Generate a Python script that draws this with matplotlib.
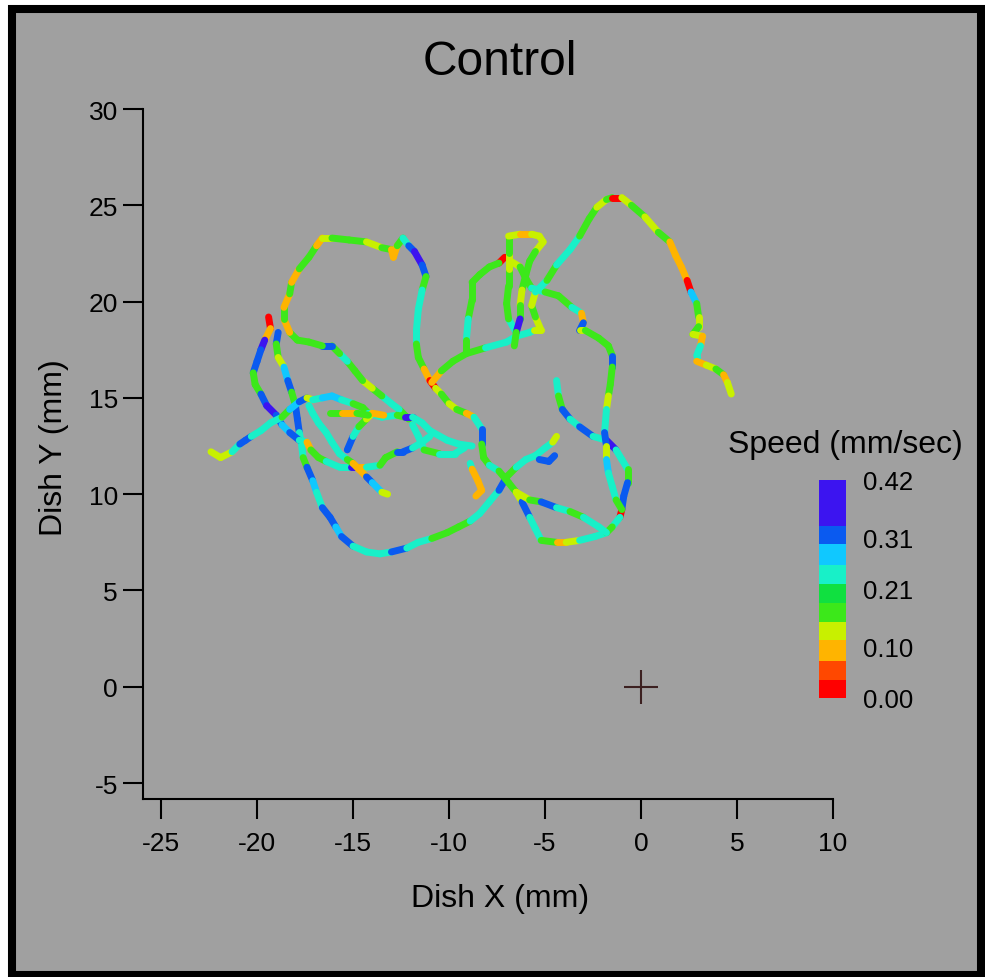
import numpy as np
import matplotlib
matplotlib.use("Agg")
import matplotlib.pyplot as plt
from matplotlib.collections import LineCollection
from matplotlib.colors import ListedColormap, BoundaryNorm
from matplotlib.cm import ScalarMappable
from matplotlib.patches import Rectangle

plt.rcParams['font.family'] = ['Liberation Sans', 'DejaVu Sans']
plt.rcParams['axes.unicode_minus'] = False

# traced track pieces (mm) with speed (mm/sec) at each point
tail_x = [-22.4, -21.9, -21.3, -20.9, -20.6, -20.3, -19.8, -19.3, -18.7, -18.3, -17.8, -17.4, -17.1, -16.6,
          -16.1, -15.6, -15.0, -14.5, -14.2, -13.5, -12.7, -12.3, -11.9, -11.4, -11.0, -10.1, -9.5, -8.8]
tail_y = [12.2, 11.9, 12.2, 12.6, 12.8, 13.0, 13.3, 13.7, 14.0, 14.4, 14.8, 15.0, 14.9, 15.0,
          15.1, 14.9, 14.7, 14.5, 14.2, 14.0, 14.1, 14.0, 14.0, 13.7, 13.3, 12.8, 12.6, 12.5]
tail_v = [.13, .13, .24, .31, .31, .24, .24, .24, .17, .27, .31, .13, .24, .27,
          .27, .24, .17, .17, .24, .24, .17, .38, .24, .24, .24, .24, .24, .31]

cross_x = [-15.3, -15.0, -14.7, -14.3, -14.0, -13.4]
cross_y = [12.3, 13.0, 13.5, 13.9, 14.2, 14.1]
cross_v = [.31, .24, .17, .13, .09, .24]

mid_x = [-16.2, -15.6, -14.8, -14.2]
mid_y = [14.2, 14.2, 14.2, 14.1]
mid_v = [.17, .09, .17, .24]

left_x = [-19.4, -19.3, -19.6, -19.8, -20.0, -20.2, -20.1, -19.8, -19.5, -19.0, -18.7, -18.3, -17.8, -17.4,
          -17.2, -16.8, -16.4, -15.7, -15.1, -14.7, -14.3, -13.6, -13.3, -12.7, -12.4, -11.9, -11.4, -11.0]
left_y = [19.2, 18.6, 18.0, 17.5, 16.9, 16.3, 15.7, 15.2, 14.6, 14.1, 13.6, 13.2, 12.8, 12.7,
          12.3, 11.9, 11.7, 11.4, 11.4, 11.4, 11.4, 11.5, 11.9, 12.2, 12.2, 12.4, 12.7, 13.0]
left_v = [.02, .09, .38, .31, .31, .17, .17, .31, .38, .31, .27, .31, .24, .09,
          .17, .17, .24, .24, .38, .09, .24, .17, .17, .31, .31, .24, .24, .24]

low_x = [-18.9, -19.0, -18.9, -18.6, -18.4, -18.2, -18.0, -17.9, -17.8, -17.7, -17.6, -17.4, -17.1,
         -16.9, -16.6, -16.2, -15.9, -15.6, -15.0, -14.3, -13.6, -13.0, -12.2, -11.6, -10.9, -10.1,
         -9.5, -8.9, -8.4, -7.9, -7.4, -7.0, -6.5, -6.0, -5.5, -5.0, -4.6, -4.4]
low_y = [18.4, 17.8, 17.1, 16.6, 15.9, 15.3, 14.6, 13.9, 13.2, 12.7, 11.9, 11.4, 10.7,
         10.1, 9.3, 8.8, 8.3, 7.8, 7.3, 7.0, 6.9, 7.0, 7.2, 7.5, 7.7, 8.0,
         8.3, 8.6, 9.0, 9.6, 10.2, 10.9, 11.4, 11.8, 12.0, 12.4, 12.7, 13.0]
low_v = [.31, .17, .13, .27, .31, .17, .31, .31, .24, .24, .17, .31, .27,
         .24, .31, .31, .27, .31, .24, .24, .24, .31, .24, .24, .17, .17,
         .17, .24, .24, .24, .31, .17, .24, .24, .24, .24, .13, .13]

diag_x = [-17.3, -17.1, -16.8, -16.4, -16.1, -15.7, -15.3, -15.0, -14.7, -14.3, -14.0, -13.5, -13.2]
diag_y = [14.6, 14.2, 13.7, 13.2, 12.7, 12.1, 11.8, 11.6, 11.3, 10.9, 10.6, 10.1, 10.0]
diag_v = [.24, .24, .24, .24, .24, .24, .17, .09, .09, .31, .27, .13, .13]

loop_x = [-12.1, -12.6, -13.0, -13.5, -14.0, -14.5, -14.9, -15.3, -15.7, -16.1, -16.6, -17.3, -17.9,
          -18.3, -18.6, -18.6, -18.3, -18.2, -17.8, -17.3, -16.9, -16.6, -16.1, -15.2, -14.3, -13.5,
          -13.0, -12.9, -12.7, -12.4, -12.1, -11.8, -11.4, -11.2, -11.4, -11.6, -11.7, -11.7, -11.6,
          -11.3, -11.0, -10.7, -10.4, -10.0, -9.6, -9.1, -8.7, -8.3, -8.3, -8.2, -7.9, -7.4, -6.9,
          -6.5, -6.2, -5.8, -5.5, -5.2, -4.4, -3.9, -3.2, -2.4, -1.8]
loop_y = [13.9, 14.4, 14.7, 15.1, 15.5, 15.9, 16.4, 16.9, 17.3, 17.7, 17.7, 17.9, 18.0,
          18.4, 19.1, 19.7, 20.4, 21.0, 21.7, 22.3, 22.9, 23.3, 23.3, 23.2, 23.1, 22.8,
          22.7, 22.3, 22.9, 23.3, 22.9, 22.6, 21.9, 21.3, 20.6, 19.6, 18.5, 17.8, 17.1,
          16.5, 15.9, 15.5, 15.2, 14.7, 14.4, 14.2, 14.0, 13.4, 12.6, 11.9, 11.5, 11.2, 10.6,
          10.1, 9.6, 8.8, 8.2, 7.6, 7.5, 7.5, 7.6, 7.8, 8.0]
loop_v = [.17, .24, .24, .17, .13, .17, .17, .24, .17, .31, .17, .17, .17,
          .09, .17, .09, .17, .09, .17, .17, .09, .13, .17, .17, .13, .17,
          .09, .09, .17, .24, .31, .38, .31, .17, .24, .24, .24, .17, .17,
          .09, .02, .13, .17, .13, .17, .09, .24, .31, .17, .17, .24, .17, .17,
          .13, .31, .24, .24, .17, .09, .13, .24, .24, .13]

u_x = [-4.4, -4.3, -4.1, -3.7, -3.2, -2.5, -1.8, -1.3, -1.0, -0.7, -0.7, -0.9, -1.0, -1.1, -1.5, -1.8]
u_y = [15.9, 15.1, 14.4, 13.9, 13.5, 13.0, 12.8, 12.3, 11.8, 11.3, 10.6, 9.9, 9.2, 8.8, 8.3, 8.0]
u_v = [.24, .17, .31, .24, .31, .24, .38, .24, .24, .17, .31, .31, .02, .24, .17, .13]

right_x = [-6.8, -6.3, -6.0, -5.7, -5.0, -4.3, -3.6, -3.1, -3.0, -3.2, -2.9, -2.2, -1.7,
           -1.5, -1.5, -1.6, -1.7, -1.8, -1.9, -1.8, -1.8, -1.7, -1.5, -1.3, -1.0]
right_y = [22.1, 21.8, 21.2, 20.7, 20.5, 20.3, 19.7, 19.4, 18.9, 18.5, 18.5, 18.1, 17.7,
           17.2, 16.6, 15.7, 15.1, 14.4, 13.2, 12.5, 11.8, 11.1, 10.4, 9.7, 9.2]
right_v = [.13, .17, .17, .24, .17, .17, .24, .09, .31, .13, .17, .17, .17,
           .31, .17, .17, .13, .24, .31, .13, .27, .24, .24, .17, .02]

pent_x = [-7.1, -7.4, -7.9, -8.4, -8.8, -8.8, -9.0, -9.1, -9.1]
pent_y = [22.3, 22.0, 21.8, 21.4, 21.0, 20.1, 19.1, 18.0, 17.4]
pent_v = [.02, .17, .17, .17, .17, .17, .24, .17, .17]

base_x = [-10.9, -10.4, -9.8, -9.1, -8.1, -7.0, -6.5, -5.8, -5.6, -5.2]
base_y = [15.8, 16.4, 16.9, 17.3, 17.6, 17.9, 18.2, 18.4, 18.5, 18.5]
base_v = [.09, .17, .17, .17, .24, .24, .24, .24, .13, .13]

arch_x = [-5.2, -5.5, -5.7, -5.5, -4.9, -4.4, -3.7, -3.2, -2.7, -2.3, -1.8, -1.5, -1.0, -0.5, 0.2, 0.9, 1.5,
          1.8, 2.1, 2.4, 2.6, 2.9, 3.0, 3.0, 2.7, 3.2, 3.1, 2.9, 2.9, 3.4, 3.9, 4.3, 4.5, 4.7]
arch_y = [18.5, 19.2, 19.8, 20.5, 21.1, 21.9, 22.7, 23.4, 24.3, 24.9, 25.3, 25.4, 25.4, 25.0, 24.4, 23.6, 23.1,
          22.4, 21.8, 21.1, 20.5, 19.9, 19.2, 18.7, 18.3, 18.2, 17.7, 17.2, 16.9, 16.7, 16.5, 16.2, 15.8, 15.2]
arch_v = [.13, .17, .13, .24, .17, .24, .24, .17, .17, .13, .17, .02, .13, .17, .13, .17, .09,
          .09, .09, .02, .27, .17, .13, .17, .13, .09, .24, .24, .09, .13, .17, .09, .13, .17]

vert_x = [-6.5, -6.9, -7.0, -6.9, -6.9, -6.9, -6.9, -6.3, -5.7, -5.3, -5.1, -5.5, -5.8, -6.0, -6.2, -6.3, -6.3, -6.5, -6.6]
vert_y = [18.4, 19.1, 19.9, 20.8, 21.7, 22.5, 23.4, 23.5, 23.5, 23.4, 23.1, 22.6, 22.1, 21.4, 20.6, 19.8, 19.1, 18.4, 17.7]
vert_v = [.24, .17, .17, .17, .13, .17, .13, .09, .13, .13, .13, .17, .17, .17, .13, .17, .38, .17, .24]

blob_x = [-8.9, -8.8, -8.5, -8.3, -8.6]
blob_y = [11.6, 11.3, 10.7, 10.2, 9.9]
blob_v = [.24, .09, .09, .09, .05]

lowr_x = [-6.5, -5.8, -5.2, -4.4, -3.7, -3.0, -2.2, -1.8]
lowr_y = [10.1, 9.7, 9.6, 9.3, 9.1, 8.8, 8.3, 8.0]
lowr_v = [.13, .17, .31, .24, .17, .24, .24, .13]

bit_x = [-5.3, -4.8, -4.5]
bit_y = [11.8, 11.7, 12.0]
bit_v = [.31, .31, .17]

tri_x = [-11.9, -11.6, -11.3, -10.5, -9.7, -9.2]
tri_y = [13.6, 13.0, 12.3, 12.1, 12.1, 12.4]
tri_v = [.24, .24, .17, .24, .24, .17]

speed_edges = [0, 0.035, 0.071, 0.112, 0.146, 0.183, 0.220, 0.256, 0.297, 0.331, 0.42]
speed_colors = ['#ff0000', '#ff4800', '#ffb400', '#c8f000', '#3ce81a',
                '#10e040', '#18f0c8', '#10c8ff', '#0a5af0', '#3c14f0']
cbar_ticks = [0.0, 0.10, 0.21, 0.31, 0.42]

tracks = [(low_x, low_y, low_v), (left_x, left_y, left_v), (loop_x, loop_y, loop_v),
          (tail_x, tail_y, tail_v), (cross_x, cross_y, cross_v), (mid_x, mid_y, mid_v),
          (diag_x, diag_y, diag_v), (u_x, u_y, u_v), (right_x, right_y, right_v),
          (pent_x, pent_y, pent_v), (base_x, base_y, base_v), (arch_x, arch_y, arch_v),
          (vert_x, vert_y, vert_v), (blob_x, blob_y, blob_v), (lowr_x, lowr_y, lowr_v),
          (bit_x, bit_y, bit_v), (tri_x, tri_y, tri_v)]

fig = plt.figure(figsize=(9.85, 9.78), dpi=100)
fig.patch.set_facecolor('white')
fig.patches.append(Rectangle((0.0122, 0.002), 0.9837, 0.9878, transform=fig.transFigure,
                             facecolor='#a0a0a0', edgecolor='black', linewidth=5.8, zorder=-10))

ax = fig.add_axes([0.1452, 0.1820, 0.7005, 0.7055])
ax.set_facecolor('none')

cmap = ListedColormap(speed_colors)
norm = BoundaryNorm(speed_edges, cmap.N)

for tx, ty, tv in tracks:
    pts = np.column_stack([tx, ty])
    segs = np.stack([pts[:-1], pts[1:]], axis=1)
    lc = LineCollection(segs, cmap=cmap, norm=norm, linewidths=5, capstyle='round')
    lc.set_array(np.asarray(tv[:-1]))
    ax.add_collection(lc)

ax.plot(0, 0, marker='+', ms=24, mew=1.5, color='#3c2020')

ax.set_xlim(-25.94, 10)
ax.set_ylim(-5.83, 30)
ax.set_xticks(range(-25, 11, 5))
ax.set_yticks(range(-5, 31, 5))
for s in ['top', 'right']:
    ax.spines[s].set_visible(False)
for s in ['left', 'bottom']:
    ax.spines[s].set_linewidth(1.5)
ax.tick_params(direction='out', length=14.4, width=1.5, labelsize=19)
ax.tick_params(axis='x', pad=8.5)
ax.tick_params(axis='y', pad=3.6)

fig.text(0.5076, 0.0808, 'Dish X (mm)', ha='center', va='center', fontsize=23)
fig.text(0.0548, 0.5419, 'Dish Y (mm)', rotation=90, ha='center', va='center', fontsize=23)
fig.text(0.5076, 0.9233, 'Control', ha='center', va='baseline', fontsize=34.5)

cax = fig.add_axes([0.8315, 0.2853, 0.0274, 0.2229])
cb = fig.colorbar(ScalarMappable(norm=norm, cmap=cmap), cax=cax, spacing='proportional',
                  ticks=cbar_ticks, format='%.2f')
cb.outline.set_visible(False)
cax.minorticks_off()
cax.tick_params(which='both', length=0, labelsize=18.5, pad=12.5)
fig.text(0.858, 0.5368, 'Speed (mm/sec)', ha='center', va='baseline', fontsize=23)

fig.savefig('out.png', dpi=100, facecolor=fig.get_facecolor())
